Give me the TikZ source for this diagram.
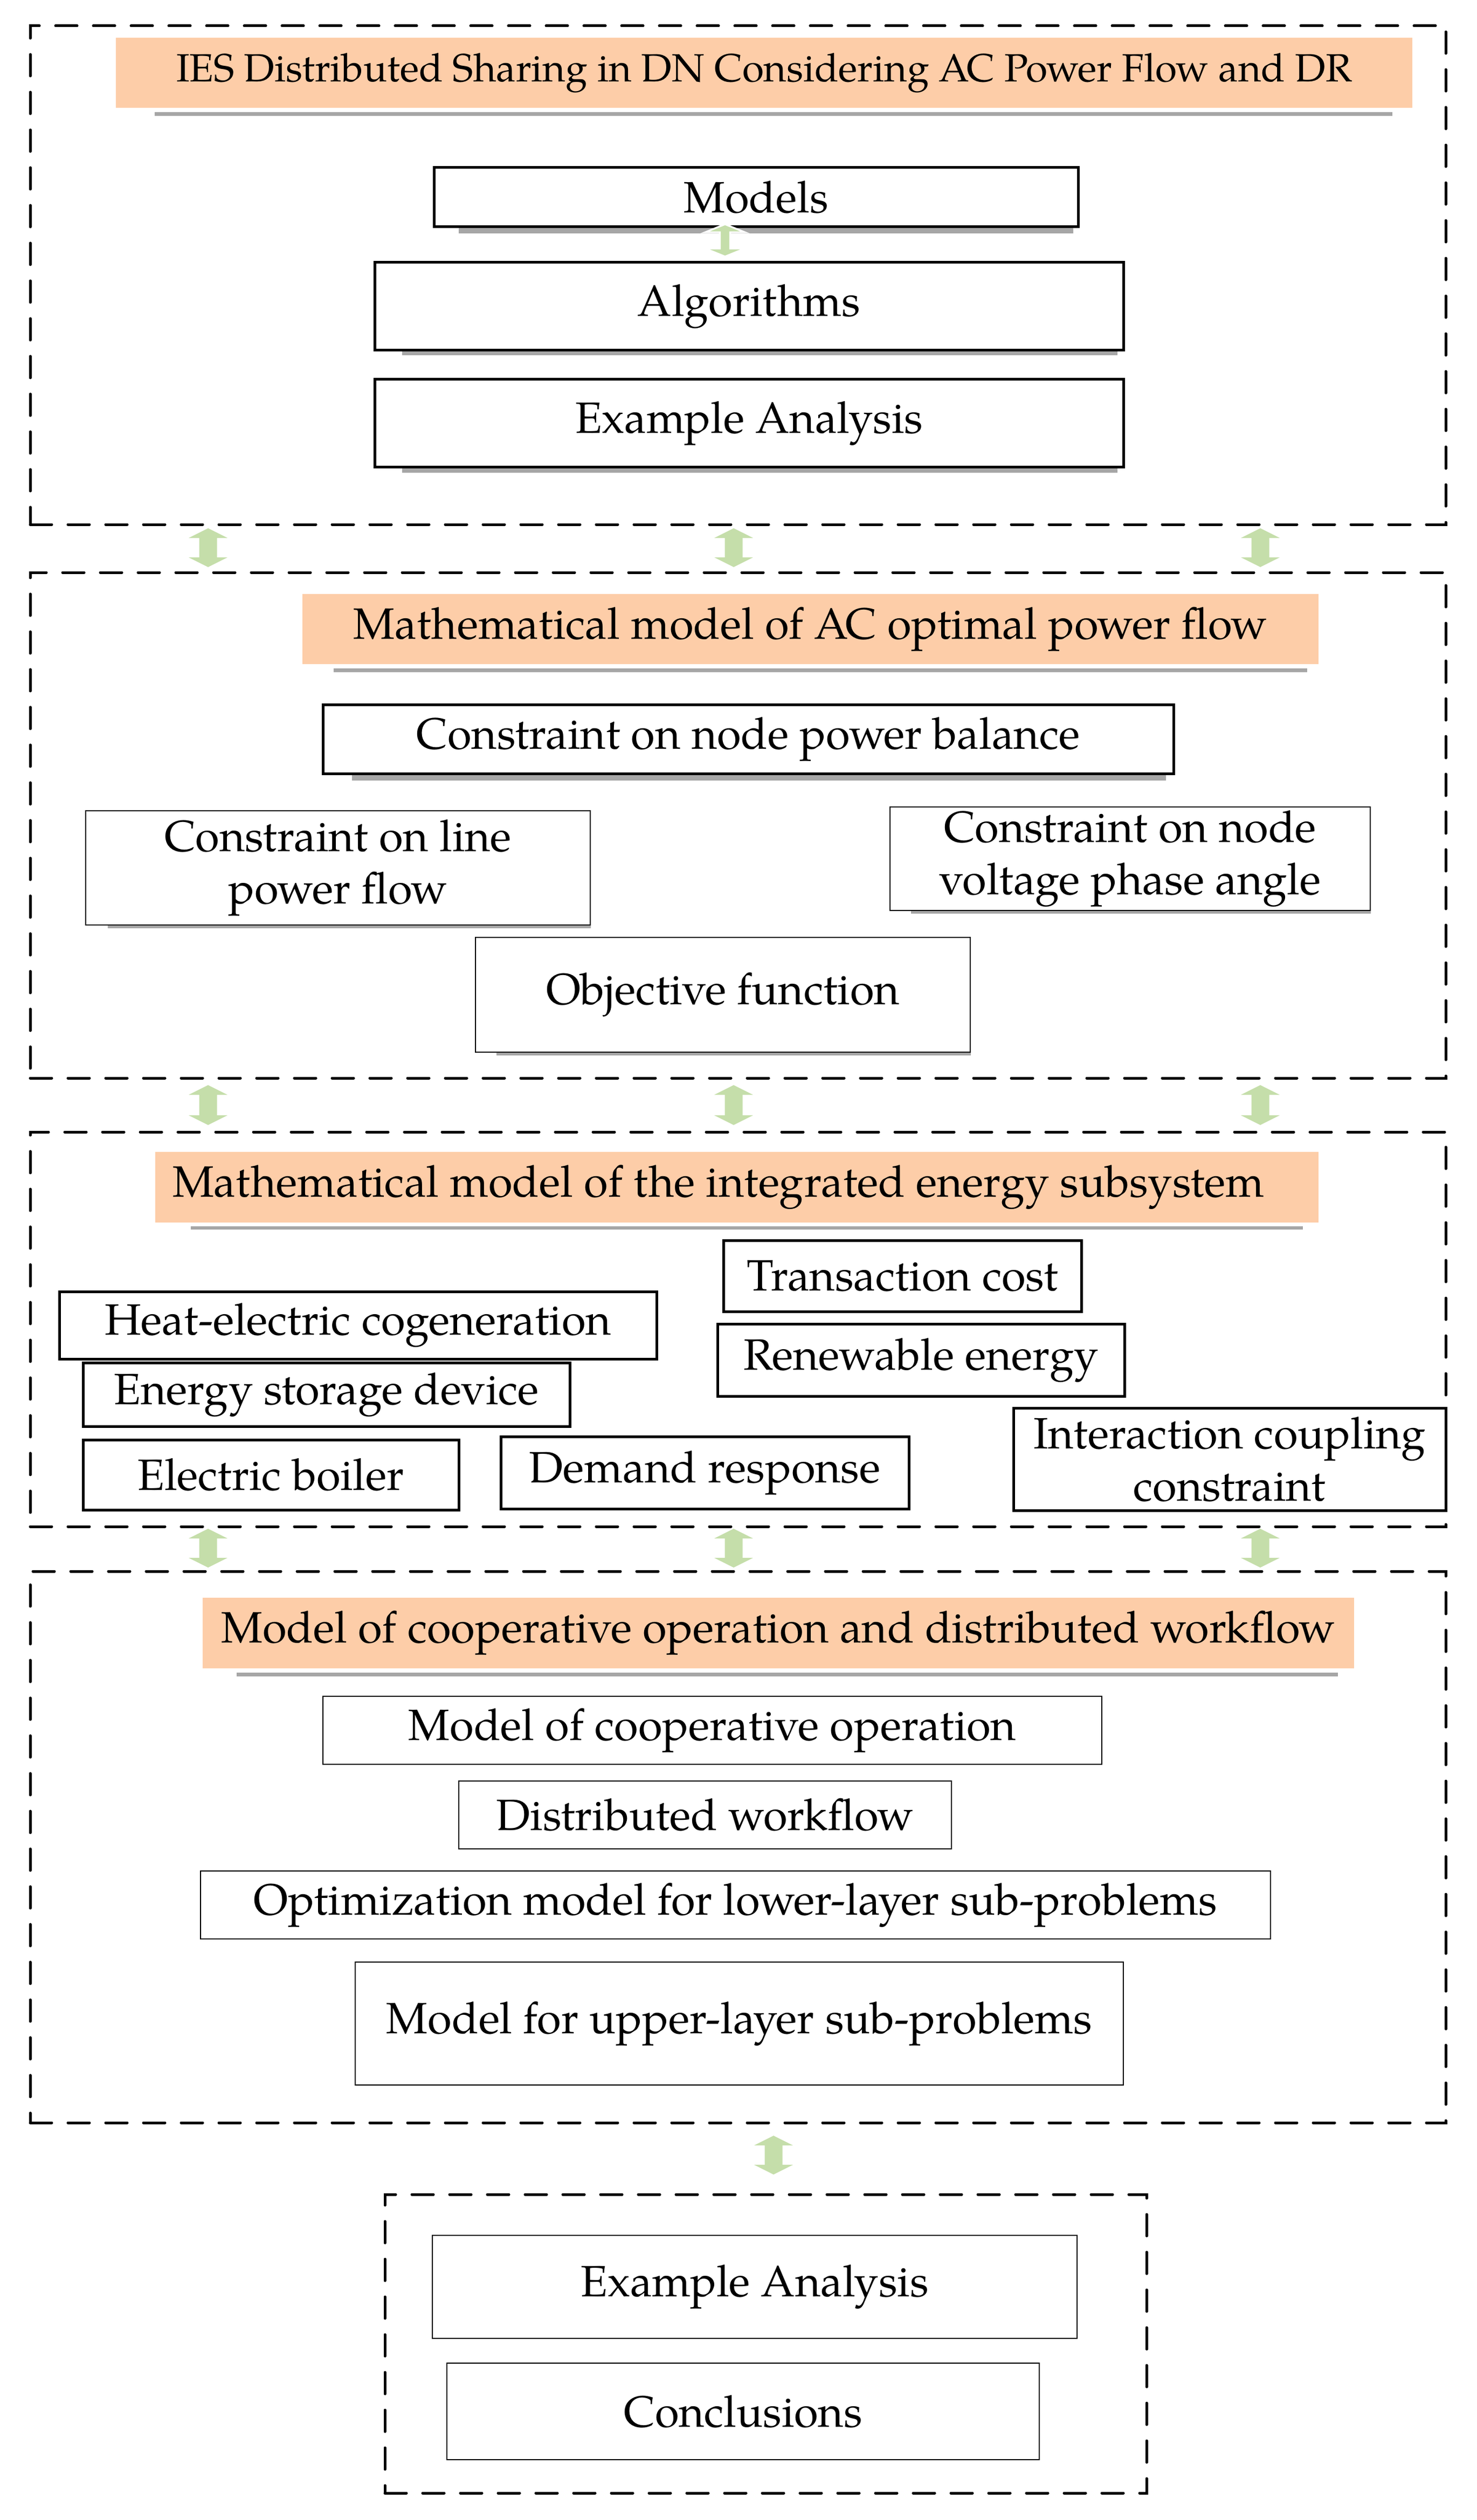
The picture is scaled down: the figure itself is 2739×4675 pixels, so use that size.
\documentclass[tikz,border=0pt]{standalone}
\usepackage{fontspec}
\setmainfont{texgyrepagella}[Extension=.otf,UprightFont=*-regular]
\usetikzlibrary{calc}
\definecolor{peach}{HTML}{FDCDA8}
\definecolor{agreen}{HTML}{C5DEAA}
\definecolor{shc}{HTML}{A6A6A6}
\pgfdeclarelayer{bg}\pgfsetlayers{bg,main}
\newcommand\mainf{\fontsize{24.4}{29.1}\selectfont}
\newcommand\titlef{\fontsize{21.9}{25}\selectfont}
% shadow bar: node, left offset, right offset, gap, height (px)
\newcommand\shbar[5]{\begin{pgfonlayer}{bg}\fill[shc] ($(#1.south west)+(#2,#4)$) rectangle ($(#1.south east)+(-#3,#4+#5)$);\end{pgfonlayer}}
% double block arrow: style, top coord, bottom coord, head half width, shaft half width, head length
\newcommand\dbarrow[6]{\path[#1] (#2) -- ++(#4,#6) -- ++(#5-#4,0) -- ($(#3)+(#5,-#6)$) -- ++(#4-#5,0) -- (#3) -- ++(-#4,-#6) -- ++(#4-#5,0) -- ($(#2)+(-#5,#6)$) -- ++(#5-#4,0) -- cycle;}
\begin{document}
\begin{tikzpicture}[x=0.3pt,y=-0.3pt,
  sz/.style 2 args={minimum width=#1*0.3pt,minimum height=#2*0.3pt},
  dbox/.style={draw,line width=1.5pt,dash pattern=on 12pt off 9pt,line cap=round,inner sep=0pt},
  ttl/.style={fill=peach,inner sep=0pt,align=center,font=\mainf},
  tbox/.style={draw,line width=1.5pt,fill=white,inner sep=0pt,align=center,font=\mainf},
  nbox/.style={draw,line width=0.7pt,fill=white,inner sep=0pt,align=center,font=\mainf},
  garrow/.style={fill=agreen}]
\useasboundingbox (0,0) rectangle (2739,4675);

% ---------- block 1
\node[dbox,sz={2626}{925}] (B1) at (1369,510.5) {};
\node[ttl,sz={2405}{130},font=\titlef] (T1) at (1417.5,135) {IES Distributed Sharing in DN Considering AC Power Flow and DR};
\node[tbox,sz={1195}{110}] (models) at (1402.5,366) {Models};
\node[tbox,sz={1389}{163}] (algo) at (1389.5,568.5) {Algorithms};
\node[tbox,sz={1389}{162}] (exa1) at (1389.5,785) {Example Analysis};
\shbar{T1}{73}{38}{7}{7}
\shbar{models}{48}{12}{0}{10}
\shbar{algo}{53}{14}{0}{7}
\shbar{exa1}{53}{14}{0}{8}
\coordinate (s0t) at (1345,416);
\coordinate (s0b) at (1345,476);
\dbarrow{fill=agreen,draw=white,line width=1pt}{s0t}{s0b}{37}{9.5}{15}

% ---------- block 2
\node[dbox,sz={2626}{938}] (B2) at (1369,1531) {};
\node[ttl,sz={1885}{130}] (T2) at (1503.5,1167) {Mathematical model of AC optimal power flow};
\node[tbox,sz={1578}{128}] (cnpb) at (1388,1371) {Constraint on node power balance};
\node[nbox,sz={936}{212}] (clpf) at (627,1610) {Constraint on line\\power flow};
\node[nbox,sz={891}{192}] (cnva) at (2096.5,1593) {Constraint on node\\voltage phase angle};
\node[nbox,sz={918}{213}] (obj) at (1341,1845.5) {Objective function};
\shbar{T2}{59}{22}{7}{7}
\shbar{cnpb}{56}{17}{0}{10}
\shbar{clpf}{42}{0}{0}{5}
\shbar{cnva}{40}{0}{0}{5}
\shbar{obj}{40}{0}{0}{5}

% arrows block1 - block2
\coordinate (a1t) at (386,980);  \coordinate (a1b) at (386,1052);
\coordinate (a2t) at (1361,980); \coordinate (a2b) at (1361,1052);
\coordinate (a3t) at (2338,980); \coordinate (a3b) at (2338,1052);
\dbarrow{garrow}{a1t}{a1b}{36}{16.5}{18}
\dbarrow{garrow}{a2t}{a2b}{36}{16.5}{18}
\dbarrow{garrow}{a3t}{a3b}{36}{16.5}{18}

% ---------- block 3
\node[dbox,sz={2626}{732}] (B3) at (1369,2466) {};
\node[ttl,sz={2158}{131}] (T3) at (1367,2202.5) {\makebox[647.4pt][l]{\hspace{9.6pt}Mathematical model of the integrated energy subsystem}};
\node[tbox,sz={664}{132}] (tc) at (1674,2367) {Transaction cost};
\node[tbox,sz={1108}{125}] (hec) at (664,2458.5) {Heat-electric cogeneration};
\node[tbox,sz={755}{134}] (re) at (1708.5,2523) {Renewable energy};
\node[tbox,sz={903}{118}] (esd) at (605.5,2587) {Energy storage device};
\node[tbox,sz={802}{190}] (icc) at (2281,2707) {Interaction coupling\\constraint};
\node[tbox,sz={697}{130}] (eb) at (502.5,2736) {Electric boiler};
\node[tbox,sz={757}{134}] (dr) at (1307.5,2732) {Demand response};
\shbar{T3}{67}{30}{6}{6}

% arrows block2 - block3
\coordinate (b1t) at (386,2013);  \coordinate (b1b) at (386,2087);
\coordinate (b2t) at (1361,2013); \coordinate (b2b) at (1361,2087);
\coordinate (b3t) at (2338,2013); \coordinate (b3b) at (2338,2087);
\dbarrow{garrow}{b1t}{b1b}{36}{16.5}{18}
\dbarrow{garrow}{b2t}{b2b}{36}{16.5}{18}
\dbarrow{garrow}{b3t}{b3b}{36}{16.5}{18}

% ---------- block 4
\node[dbox,sz={2626}{1023}] (B4) at (1369,3426.5) {};
\node[ttl,sz={2136}{131}] (T4) at (1444,3029.5) {Model of cooperative operation and distributed workflow};
\node[nbox,sz={1445}{126}] (mco) at (1321.5,3210) {Model of cooperative operation};
\node[nbox,sz={914}{126}] (dw) at (1308,3367) {Distributed workflow};
\node[nbox,sz={1985}{126}] (opt) at (1364.5,3534) {Optimization model for lower-layer sub-problems};
\node[nbox,sz={1425}{228}] (mul) at (1371.5,3754) {Model for upper-layer sub-problems};
\shbar{T4}{64}{31}{7}{7}

% arrows block3 - block4
\coordinate (c1t) at (386,2836);  \coordinate (c1b) at (386,2908);
\coordinate (c2t) at (1361,2836); \coordinate (c2b) at (1361,2908);
\coordinate (c3t) at (2338,2836); \coordinate (c3b) at (2338,2908);
\dbarrow{garrow}{c1t}{c1b}{36}{16.5}{18}
\dbarrow{garrow}{c2t}{c2b}{36}{16.5}{18}
\dbarrow{garrow}{c3t}{c3b}{36}{16.5}{18}

% ---------- block 5
\node[dbox,sz={1413}{554}] (B5) at (1420.5,4348) {};
\node[nbox,sz={1196}{191}] (exa2) at (1400,4242.5) {Example Analysis};
\node[nbox,sz={1099}{179}] (concl) at (1378.5,4473.5) {Conclusions};

% arrow block4 - block5
\coordinate (d1t) at (1435,3962); \coordinate (d1b) at (1435,4034);
\dbarrow{garrow}{d1t}{d1b}{36}{16.5}{18}
\end{tikzpicture}
\end{document}
